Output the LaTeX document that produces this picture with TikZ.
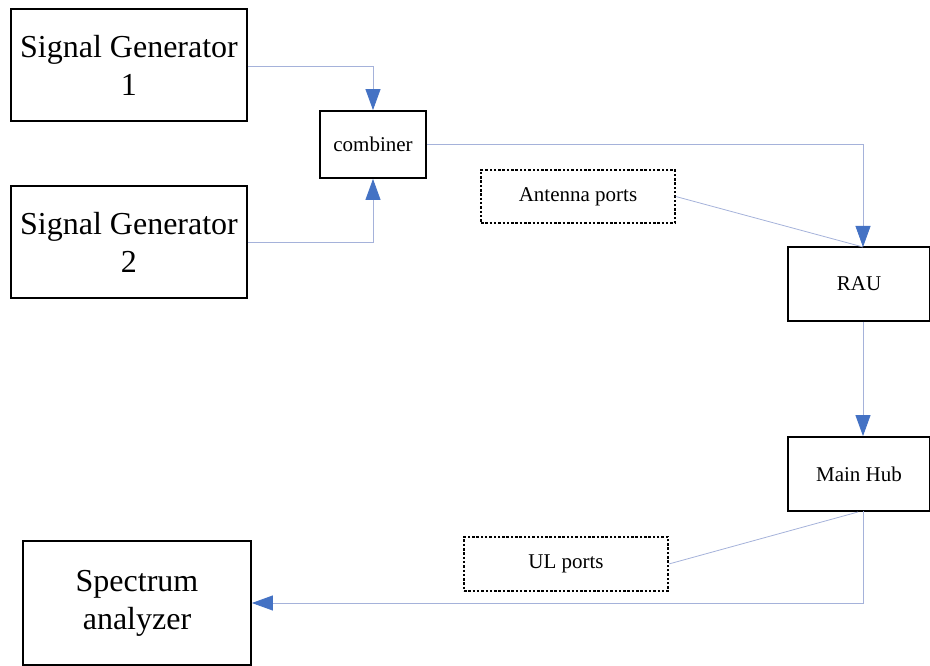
\documentclass[tikz,border=0pt]{standalone}
\usepackage{fontspec}
\setmainfont{Liberation Serif}
\usetikzlibrary{arrows.meta}
\definecolor{linec}{RGB}{165,178,218}
\definecolor{tipc}{RGB}{68,114,196}
\tikzset{
  blk/.style={draw=black, line width=1.8pt, inner sep=0pt, align=center},
  dotbox/.style={draw=black, line width=1.6pt, dash pattern=on 2.5pt off 1.8pt, inner sep=0pt, align=center},
  conn/.style={draw=linec, line width=0.8pt},
  arr/.style={conn, -{Triangle[width=15pt,length=21pt,fill=tipc,color=tipc]}},
  bigtxt/.style={font=\fontsize{32}{38}\selectfont},
  smtxt/.style={font=\fontsize{21}{24}\selectfont}
}
\begin{document}
\begin{tikzpicture}[x=1pt,y=-1pt]
\useasboundingbox (0,0) rectangle (930,666);
\node[blk,bigtxt,minimum width=236pt,minimum height=112pt] (sg1) at (129,65) {Signal Generator\\1};
\node[blk,bigtxt,minimum width=236pt,minimum height=112pt] (sg2) at (129,242) {Signal Generator\\2};
\node[blk,smtxt,minimum width=106pt,minimum height=67pt] (comb) at (373,144.5) {combiner};
\node[dotbox,smtxt,minimum width=194pt,minimum height=53pt] (ant) at (578,196.5) {Antenna ports};
\node[blk,smtxt,minimum width=142pt,minimum height=74pt] (rau) at (859,284) {RAU};
\node[blk,smtxt,minimum width=142pt,minimum height=74pt] (hub) at (859,474) {Main Hub};
\node[dotbox,smtxt,minimum width=204pt,minimum height=54pt] (ul) at (566,564) {UL ports};
\node[blk,bigtxt,minimum width=228pt,minimum height=124pt] (sa) at (137,603) {Spectrum\\analyzer};
\coordinate (rautop) at (863,247);
\coordinate (hubbot) at (863,511);
\draw[arr] (sg1.east |- 0,66) -| (comb.north);
\draw[arr] (sg2.east |- 0,242) -| (comb.south);
\draw[arr] (comb.east) -| (rautop);
\draw[conn] (ant.east) -- (rautop);
\draw[arr] (rau.south -| rautop) -- (hub.north -| rautop);
\draw[arr] (hubbot) -- (863,603) -- (sa.east);
\draw[conn] (ul.east) -- (858,512);
\end{tikzpicture}
\end{document}
